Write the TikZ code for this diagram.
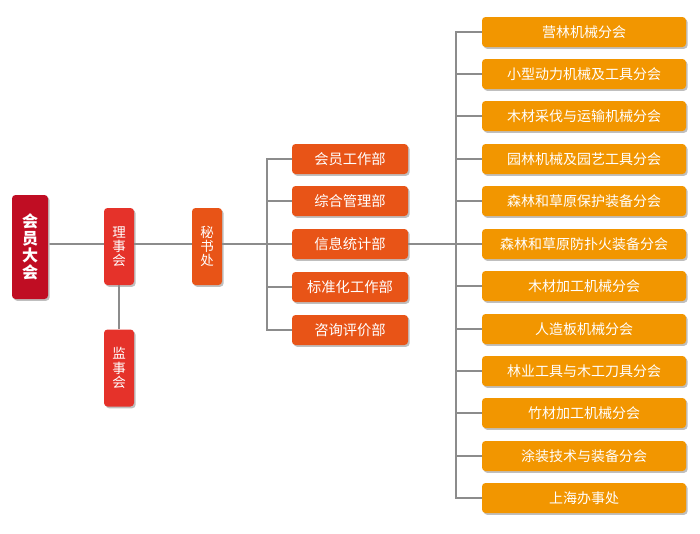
\documentclass[tikz,border=0pt]{standalone}
\usepackage{fontspec}
\setmainfont{Noto Sans CJK SC}
\usetikzlibrary{shadows}
\definecolor{dred}{HTML}{C00D23}
\definecolor{mred}{HTML}{E5322A}
\definecolor{ored}{HTML}{E85417}
\definecolor{orng}{HTML}{F29600}
\definecolor{lne}{HTML}{8C8C8C}
\tikzset{
  box/.style={rounded corners=3.5pt, draw=none, text=white, inner sep=0pt,
    drop shadow={shadow xshift=1.6pt, shadow yshift=-1.8pt, fill=black!25, opacity=1}},
  vbox/.style={box, minimum width=30pt, minimum height=77pt, align=center, font=\fontsize{13.5}{14.2}\selectfont},
  dept/.style={box, fill=ored, minimum width=116pt, minimum height=30pt, font=\fontsize{14.3}{16}\selectfont},
  branch/.style={box, fill=orng, minimum width=204pt, minimum height=30pt, font=\fontsize{14}{16}\selectfont},
  conn/.style={draw=lne, line width=1.3pt}
}
\begin{document}
\begin{tikzpicture}[x=1pt,y=-1pt]
\useasboundingbox (0,0) rectangle (700,533);
\draw[conn] (48,244) -- (104,244);
\node[vbox, fill=dred, minimum width=36pt, minimum height=104pt, font=\bfseries\fontsize{16}{16.8}\selectfont] (dahui) at (30,247) {会\\员\\大\\会};
\node[vbox, fill=mred] (lishi) at (119,246.5) {理\\事\\会};
\node[vbox, fill=ored] (mishu) at (207,246.5) {秘\\书\\处};
\node[vbox, fill=mred] (jianshi) at (119,368) {监\\事\\会};

\coordinate (dtrunk) at (267,244);
\coordinate (btrunk) at (456,244);

\foreach \n/\t/\y in {d1/会员工作部/159, d2/综合管理部/201, d3/信息统计部/244, d4/标准化工作部/287, d5/咨询评价部/330}{
  \node[dept] (\n) at (350,\y) {\t};
}
\foreach \n/\t/\y in {b1/营林机械分会/32, b2/小型动力机械及工具分会/74, b3/木材采伐与运输机械分会/116, b4/园林机械及园艺工具分会/159, b5/森林和草原保护装备分会/201, b6/森林和草原防扑火装备分会/244, b7/木材加工机械分会/286, b8/人造板机械分会/329, b9/林业工具与木工刀具分会/371, b10/竹材加工机械分会/413, b11/涂装技术与装备分会/456, b12/上海办事处/498}{
  \node[branch] (\n) at (584,\y) {\t};
}

\draw[conn] (lishi.east |- 0,244) -- (mishu.west |- 0,244);
\draw[conn] (lishi.south) -- (jianshi.north);
\draw[conn] (mishu.east |- 0,244) -- (dtrunk);
\draw[conn] (d1.west) -- (dtrunk |- d1.west) -- (dtrunk |- d5.west) -- (d5.west);
\foreach \n in {d2,d3,d4}{ \draw[conn] (dtrunk |- \n.west) -- (\n.west); }
\draw[conn] (d3.east) -- (btrunk);
\draw[conn] (b1.west) -- (btrunk |- b1.west) -- (btrunk |- b12.west) -- (b12.west);
\foreach \n in {b2,b3,b4,b5,b6,b7,b8,b9,b10,b11}{ \draw[conn] (btrunk |- \n.west) -- (\n.west); }
\end{tikzpicture}
\end{document}
